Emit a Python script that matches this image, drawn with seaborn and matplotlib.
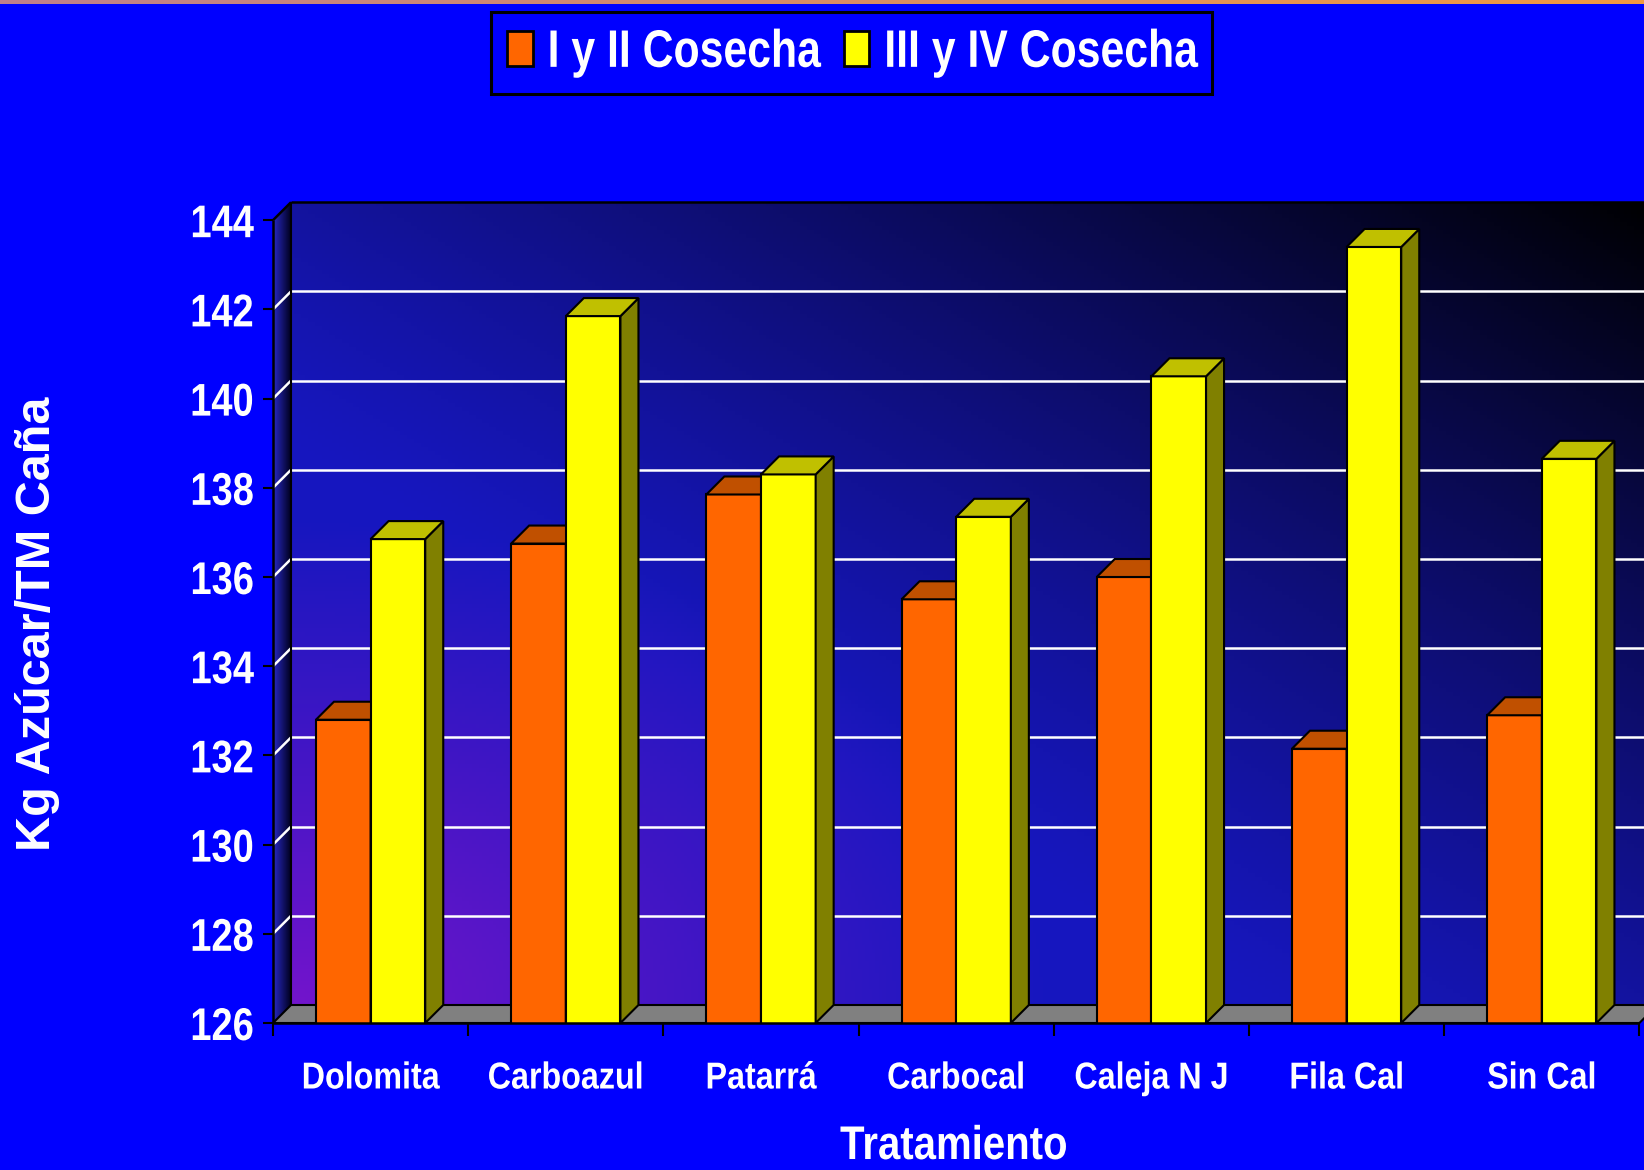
import numpy as np
import pandas as pd
import matplotlib
matplotlib.use("Agg")
import matplotlib.pyplot as plt
import seaborn as sns
from matplotlib.patches import Polygon, Patch, Rectangle
from matplotlib.patheffects import AbstractPathEffect
from matplotlib.transforms import Affine2D

# ===============================
# Data
# ===============================

tratamientos = ["Dolomita", "Carboazul", "Patarrá", "Carbocal", "Caleja N J", "Fila Cal", "Sin Cal"]
cosecha_1_2 = [132.8, 136.75, 137.85, 135.5, 136.0, 132.15, 132.9]
cosecha_3_4 = [136.85, 141.85, 138.3, 137.35, 140.5, 143.4, 138.65]
series = ["I y II Cosecha", "III y IV Cosecha"]
y_ticks = list(range(126, 145, 2))

df = pd.DataFrame({
    "Tratamiento": tratamientos * 2,
    "valor": cosecha_1_2 + cosecha_3_4,
    "Cosecha": [series[0]] * len(tratamientos) + [series[1]] * len(tratamientos),
})


# narrow look: squeeze text paths horizontally (no narrow font installed)
class Squeeze(AbstractPathEffect):
    def __init__(self, sx, anchor="center"):
        super().__init__()
        self.sx = sx
        self.anchor = anchor

    def draw_path(self, renderer, gc, tpath, affine, rgbFace=None):
        ext = tpath.get_extents()
        cx = {"left": ext.x0, "center": (ext.x0 + ext.x1) / 2, "right": ext.x1}[self.anchor]
        t = Affine2D().translate(-cx, 0).scale(self.sx, 1).translate(cx, 0)
        renderer.draw_path(gc, tpath, t + affine, rgbFace)


# ===============================
# Style
# ===============================

sns.set_style("white")
plt.rcParams["font.family"] = ["Liberation Sans", "DejaVu Sans"]
plt.rcParams["font.weight"] = "bold"

W, H = 1644, 1170
BG = "#0000FF"
front_cols = ["#FF6600", "#FFFF00"]
side_cols = ["#A04000", "#808000"]
top_cols = ["#C05000", "#C0C000"]
SQ = 0.83
SQ_LEG = 0.81

px_cat, px_val = 195.2, 44.6          # pixels per category / per value unit
dx, dy = 18 / px_cat, 18 / px_val     # depth of the 3D box
xl, xr = -0.5, len(tratamientos) - 0.5
ymin, ymax = y_ticks[0], y_ticks[-1]

ax_w = (xr + dx - xl) * px_cat
ax_h = (ymax + dy - ymin) * px_val

fig = plt.figure(figsize=(W / 100, H / 100), dpi=100, facecolor=BG)
ax = fig.add_axes([273 / W, (H - 1023) / H, ax_w / W, ax_h / H])
ax.patch.set_visible(False)

# ===============================
# Walls and floor
# ===============================

U, V = np.meshgrid(np.linspace(0, 1, 400), np.linspace(0, 1, 200))
blue = np.array([0.09, 0.09, 0.75])
purple = np.array([0.45, 0.08, 0.80])
wp = np.clip(1 - np.sqrt((U / 0.55) ** 2 + (V / 0.6) ** 2), 0, 1)[..., None]
img = blue * (1 - wp) + purple * wp
dark = np.clip((U + V - 0.7) / 1.3, 0, 1) ** 1.2
img = img * (1 - dark)[..., None]
ax.imshow(img, origin="lower", aspect="auto", zorder=0,
          extent=(xl + dx, xr + dx, ymin + dy, ymax + dy))

wall = np.linspace(0, 1, 50)[None, :, None]
left_img = np.array([0.16, 0.16, 0.78]) * (1 - wall) + np.array([0.0, 0.0, 0.12]) * wall
left_img = np.repeat(left_img, 10, axis=0)
im = ax.imshow(left_img, origin="lower", aspect="auto", zorder=0,
               extent=(xl, xl + dx, ymin, ymax + dy))
clip = Polygon([(xl, ymin), (xl + dx, ymin + dy), (xl + dx, ymax + dy), (xl, ymax)],
               transform=ax.transData)
im.set_clip_path(clip)

ax.add_patch(Polygon([(xl, ymin), (xl + dx, ymin + dy), (xr + dx, ymin + dy), (xr, ymin)],
                     fc="#808080", ec="black", lw=1.5, zorder=2, clip_on=False))

for v in y_ticks[1:-1]:
    ax.plot([xl + dx, xr + dx], [v + dy, v + dy], color="white", lw=1.8, zorder=1)
    ax.plot([xl, xl + dx], [v, v + dy], color="white", lw=1.8, zorder=1)

outline = dict(color="black", lw=1.8, zorder=6, clip_on=False, solid_capstyle="butt")
ax.plot([xl, xl], [ymin, ymax], **outline)
ax.plot([xl, xl + dx], [ymax, ymax + dy], **outline)
ax.plot([xl + dx, xr + dx], [ymax + dy, ymax + dy], **outline)
ax.plot([xl + dx, xl + dx], [ymin + dy, ymax + dy], color="black", lw=1.5, zorder=1)
ax.plot([xl, xr], [ymin, ymin], **outline)

# ===============================
# Bars (front faces via seaborn, plus 3D sides and tops)
# ===============================

sns.barplot(data=df, x="Tratamiento", y="valor", hue="Cosecha", palette=front_cols,
            saturation=1, width=0.56, gap=0, edgecolor="black", linewidth=1.5,
            errorbar=None, legend=False, ax=ax)

for k, cont in enumerate(ax.containers):
    for p in cont.patches:
        x0, w, h = p.get_x(), p.get_width(), p.get_height()
        p.set_zorder(3 + 0.2 * k)
        ax.add_patch(Polygon([(x0 + w, ymin), (x0 + w + dx, ymin + dy), (x0 + w + dx, h + dy), (x0 + w, h)],
                             fc=side_cols[k], ec="black", lw=1.5, zorder=3.1 + 0.2 * k))
        ax.add_patch(Polygon([(x0, h), (x0 + dx, h + dy), (x0 + w + dx, h + dy), (x0 + w, h)],
                             fc=top_cols[k], ec="black", lw=1.5, zorder=3.1 + 0.2 * k))

# ===============================
# Axes, ticks, labels
# ===============================

ax.set_xlim(xl, xr + dx)
ax.set_ylim(ymin, ymax + dy)
for s in ax.spines.values():
    s.set_visible(False)

ax.set_yticks(y_ticks)
ax.tick_params(axis="y", direction="out", length=7.5, width=1.5, color="black",
               pad=6, labelcolor="white", labelsize=33, left=True)
ax.set_xticks(range(len(tratamientos)))
ax.set_xticklabels(tratamientos)
ax.set_xticks(np.arange(xl, xr + 0.01, 1), minor=True)
ax.tick_params(axis="x", which="major", length=0, pad=27, labelcolor="white", labelsize=27)
ax.tick_params(axis="x", which="minor", direction="out", length=9, width=1.5,
               color="black", bottom=True)

for lbl in ax.get_yticklabels():
    lbl.set_path_effects([Squeeze(SQ, "right")])
for lbl in ax.get_xticklabels():
    lbl.set_path_effects([Squeeze(0.86, "center")])

ax.set_xlabel("Tratamiento", fontsize=34, color="white", fontweight="bold",
              path_effects=[Squeeze(0.85, "center")])
ax.xaxis.set_label_coords((954 - 273) / ax_w, (45 - 147) / ax_h)
ax.set_ylabel("Kg Azúcar/TM Caña", fontsize=35, color="white", fontweight="bold")
ax.yaxis.set_label_coords((60 - 273) / ax_w, (H - 624 - 147) / ax_h)

# ===============================
# Legend (squeezed text, frame redrawn to the squeezed width)
# ===============================

LEG_FS = 38
fs_px = LEG_FS * 100 / 72
renderer = fig.canvas.get_renderer()
tmp = fig.text(0, 0, series[0], fontsize=LEG_FS)
extra1 = tmp.get_window_extent(renderer).width * (1 - SQ_LEG)
tmp.remove()

handles = [Patch(fc=c, ec="black", lw=2) for c in front_cols]
leg = fig.legend(handles=handles, labels=series, loc="upper left",
                 bbox_to_anchor=(491 / W, 1 - 12 / H), ncol=2, frameon=False,
                 fontsize=LEG_FS, labelcolor="white", handlelength=0.49, handleheight=0.65,
                 handletextpad=0.27, columnspacing=(24 - extra1) / fs_px,
                 borderpad=0.3, borderaxespad=0)
for txt in leg.get_texts():
    txt.set_path_effects([Squeeze(SQ_LEG, "left")])

fig.canvas.draw()
bb = leg.get_window_extent(renderer)
extra2 = leg.get_texts()[1].get_window_extent(renderer).width * (1 - SQ_LEG)
frame = Rectangle((bb.x0 / W, bb.y0 / H), (bb.width - extra2) / W, bb.height / H,
                  transform=fig.transFigure, fc=BG, ec="black", lw=2.2, zorder=4)
fig.add_artist(frame)

strip = fig.add_axes([0, 1 - 4 / H, 1, 4 / H])
t = np.linspace(0, 1, 300)[None, :, None]
strip.imshow(np.array([0.75, 0.5, 0.55]) * (1 - t) + np.array([0.95, 0.6, 0.25]) * t, aspect="auto")
strip.axis("off")

fig.savefig("out.png", dpi=100, facecolor=BG)
